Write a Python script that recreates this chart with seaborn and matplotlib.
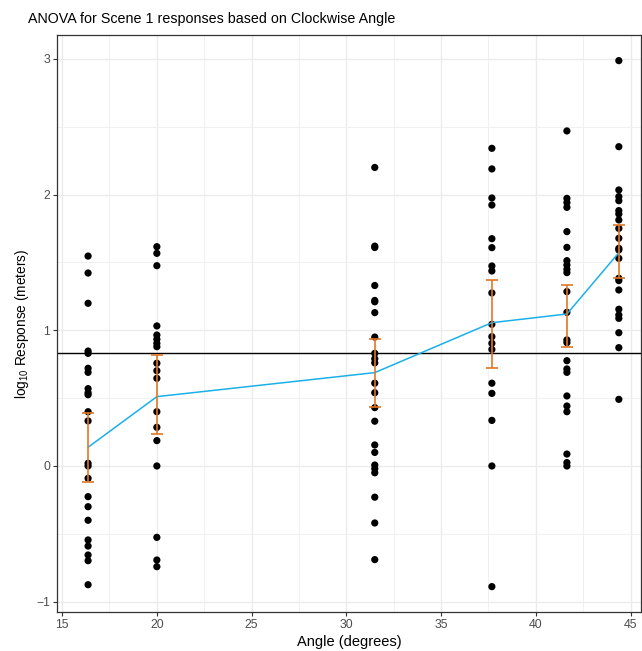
import matplotlib
matplotlib.use("Agg")
import matplotlib.pyplot as plt
import seaborn as sns
import pandas as pd
import numpy as np

# ---- data ----
angles = [16.37, 20.0, 31.5, 37.68, 41.64, 44.38]

resp_16 = [1.547, 1.422, 1.199, 0.847, 0.830, 0.720, 0.690, 0.570, 0.540, 0.525,
           0.400, 0.332, 0.020, 0.0, -0.091, -0.226, -0.300, -0.400, -0.545, -0.590,
           -0.656, -0.698, -0.875]
resp_20 = [1.616, 1.567, 1.476, 1.032, 0.965, 0.934, 0.904, 0.879, 0.757, 0.702,
           0.646, 0.400, 0.285, 0.187, 0.0, -0.526, -0.693, -0.742]
resp_31 = [2.20, 1.62, 1.61, 1.33, 1.22, 1.21, 1.13, 0.95, 0.83, 0.79, 0.76, 0.61,
           0.54, 0.43, 0.33, 0.155, 0.10, 0.007, -0.02, -0.05, -0.23, -0.42, -0.69]
resp_37 = [2.341, 2.189, 1.975, 1.923, 1.675, 1.609, 1.474, 1.437, 1.275, 1.044,
           0.953, 0.904, 0.859, 0.61, 0.535, 0.336, 0.0, -0.889]
resp_41 = [2.469, 1.972, 1.941, 1.906, 1.727, 1.611, 1.513, 1.481, 1.449, 1.425,
           1.285, 1.132, 0.929, 0.909, 0.776, 0.715, 0.690, 0.516, 0.442, 0.400,
           0.088, 0.025, 0.0]
resp_44 = [2.987, 2.353, 2.034, 1.985, 1.955, 1.882, 1.857, 1.813, 1.751, 1.678,
           1.604, 1.592, 1.530, 1.383, 1.366, 1.297, 1.155, 1.113, 1.088, 0.982,
           0.872, 0.491]

group_means = [0.138, 0.511, 0.688, 1.056, 1.12, 1.572]
ci_lower = [-0.115, 0.236, 0.432, 0.725, 0.879, 1.383]
ci_upper = [0.393, 0.815, 0.934, 1.371, 1.334, 1.776]
grand_mean = 0.83

x_ticks = [15, 20, 25, 30, 35, 40, 45]
y_ticks = [-1, 0, 1, 2, 3]

title = "ANOVA for Scene 1 responses based on Clockwise Angle"
xlabel = "Angle (degrees)"
ylabel = r"log$_{\mathrm{10}}$ Response (meters)"

# ---- build frames ----
groups = [resp_16, resp_20, resp_31, resp_37, resp_41, resp_44]
pts = pd.DataFrame({
    "angle": np.concatenate([[a] * len(g) for a, g in zip(angles, groups)]),
    "response": np.concatenate(groups),
})
means = pd.DataFrame({"angle": angles, "mean": group_means,
                      "lo": ci_lower, "hi": ci_upper})

sns.set_theme(style="whitegrid")
plt.rcParams["font.family"] = ["Liberation Sans", "DejaVu Sans"]
plt.rcParams["mathtext.fontset"] = "custom"
plt.rcParams["mathtext.rm"] = "Liberation Sans"
plt.rcParams["mathtext.it"] = "Liberation Sans:italic"

fig = plt.figure(figsize=(6.42, 6.51), dpi=100)
ax = fig.add_axes([57 / 642, 1 - 612 / 651, (641 - 57) / 642, (612 - 35) / 651])
ax.set_facecolor("white")

sns.scatterplot(data=pts, x="angle", y="response", color="black", s=27,
                edgecolor="none", ax=ax, zorder=3)
ax.axhline(grand_mean, color="black", lw=1.0, zorder=2)
sns.lineplot(data=means, x="angle", y="mean", color="#1AB0E8", lw=1.1,
             ax=ax, zorder=4)
ax.errorbar(means["angle"], means["mean"],
            yerr=[means["mean"] - means["lo"], means["hi"] - means["mean"]],
            fmt="none", ecolor="#E07828", elinewidth=1.2, capsize=4.0,
            capthick=1.2, zorder=5)

ax.set_xlim(14.73, 45.55)
ax.set_ylim(-1.076, 3.176)
ax.set_xticks(x_ticks)
ax.set_yticks(y_ticks)
ax.set_yticklabels(["\u22121", "0", "1", "2", "3"])
ax.set_xticks([17.5, 22.5, 27.5, 32.5, 37.5, 42.5], minor=True)
ax.set_yticks([-0.5, 0.5, 1.5, 2.5], minor=True)

ax.grid(which="major", color="#EBEBEB", lw=1.0)
ax.grid(which="minor", color="#F0F0F0", lw=0.7)
ax.set_axisbelow(True)
for sp in ax.spines.values():
    sp.set_color("#333333")
    sp.set_linewidth(0.9)
ax.tick_params(axis="both", which="major", length=3, width=0.8, color="#333333",
               labelsize=8.8, labelcolor="#4D4D4D", pad=2, bottom=True, left=True)
ax.tick_params(axis="both", which="minor", length=0)

ax.set_xlabel(xlabel, fontsize=10.5, color="black", labelpad=3)
ax.set_ylabel(ylabel, fontsize=9.8, color="black", labelpad=4)

fig.text(28 / 642, 1 - 23 / 651, title, fontsize=10.3, color="black",
         ha="left", va="baseline")

fig.savefig("out.png", dpi=100)
